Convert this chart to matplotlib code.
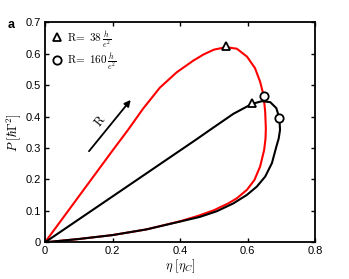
import numpy as np
import matplotlib
matplotlib.use('Agg')
import matplotlib.pyplot as plt

plt.rcParams['font.family'] = ['Liberation Sans', 'DejaVu Sans']
plt.rcParams['mathtext.fontset'] = 'cm'

# R = 38 h/e^2 (red loop)
eta_38 = [0.0, 0.1, 0.2, 0.246, 0.291, 0.340, 0.390, 0.439, 0.47, 0.5, 0.536,
          0.568, 0.598, 0.622, 0.637, 0.647, 0.652, 0.654, 0.653, 0.649,
          0.637, 0.620, 0.598, 0.568, 0.543, 0.5, 0.45, 0.4, 0.3, 0.2, 0.1, 0.0]
P_38 = [0.0, 0.146, 0.292, 0.358, 0.426, 0.492, 0.541, 0.578, 0.598, 0.613, 0.621,
        0.616, 0.591, 0.554, 0.511, 0.469, 0.416, 0.363, 0.33, 0.294,
        0.241, 0.198, 0.167, 0.140, 0.124, 0.102, 0.083, 0.067, 0.041, 0.023, 0.0105, 0.0]

# R = 160 h/e^2 (black loop)
eta_160 = [0.0, 0.2, 0.449, 0.489, 0.558, 0.612, 0.642, 0.667, 0.685, 0.694,
           0.696, 0.692, 0.685, 0.672, 0.652, 0.627, 0.598, 0.558, 0.509,
           0.459, 0.4, 0.3, 0.2, 0.1, 0.0]
P_160 = [0.0, 0.146, 0.328, 0.358, 0.409, 0.440, 0.449, 0.446, 0.427, 0.395,
         0.358, 0.33, 0.304, 0.252, 0.209, 0.177, 0.151, 0.124, 0.099,
         0.081, 0.066, 0.041, 0.023, 0.0105, 0.0]

# marker points
tri_eta = [0.536, 0.612]
tri_P = [0.624, 0.442]
circ_eta = [0.650, 0.694]
circ_P = [0.466, 0.395]

fig = plt.figure(figsize=(3.49, 2.79), dpi=100)
ax = fig.add_axes([0.129, 0.1315, 0.774, 0.7885])

ax.plot(eta_38, P_38, color='red', lw=1.5)
ax.plot(eta_160, P_160, color='black', lw=1.5)

ax.plot(tri_eta, tri_P, ls='none', marker='^', ms=6, mfc='white', mec='black', mew=1.3)
ax.plot(circ_eta, circ_P, ls='none', marker='o', ms=6, mfc='white', mec='black', mew=1.3)

# legend handles
ax.plot([], [], ls='none', marker='^', ms=6, mfc='white', mec='black', mew=1.3,
        label=r'$\mathrm{R}\!=\ 38\,\frac{h}{e^2}$')
ax.plot([], [], ls='none', marker='o', ms=6, mfc='white', mec='black', mew=1.3,
        label=r'$\mathrm{R}\!=\ 160\,\frac{h}{e^2}$')
ax.legend(loc='upper left', frameon=False, fontsize=8, handlelength=1,
          handletextpad=0.4, borderaxespad=0.2, labelspacing=0.15)

# arrow showing increasing R
ax.annotate('', xy=(0.259, 0.46), xytext=(0.125, 0.283),
            arrowprops=dict(arrowstyle='-|>', color='black', lw=1.3, mutation_scale=9))
ax.text(0.165, 0.385, r'$\mathrm{R}$', rotation=51, fontsize=9, ha='center', va='center')

ax.set_xlim(0, 0.8)
ax.set_ylim(0, 0.7)
ax.set_xticks([0, 0.2, 0.4, 0.6, 0.8])
ax.set_xticklabels(['0', '0.2', '0.4', '0.6', '0.8'])
ax.set_yticks([0, 0.1, 0.2, 0.3, 0.4, 0.5, 0.6, 0.7])
ax.set_yticklabels(['0', '0.1', '0.2', '0.3', '0.4', '0.5', '0.6', '0.7'])
ax.tick_params(direction='in', top=True, right=True, labelsize=8, length=3, width=1, pad=3)
for s in ax.spines.values():
    s.set_linewidth(1.3)

ax.set_xlabel(r'$\eta\ [\eta_C]$', fontsize=9, labelpad=1)
ax.set_ylabel(r'$P\ [\hbar\Gamma^2]$', fontsize=9, labelpad=2)

fig.text(0.022, 0.9, 'a', fontsize=9, fontweight='bold')

fig.savefig('out.png', dpi=100)
